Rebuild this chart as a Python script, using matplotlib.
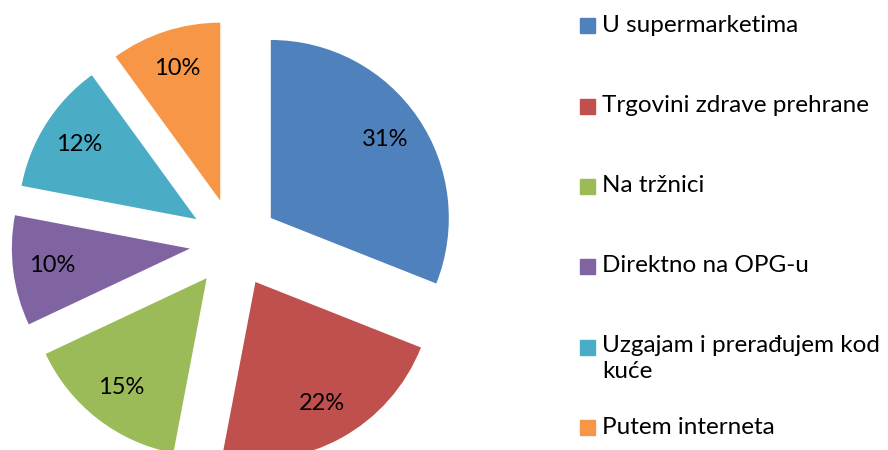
import matplotlib
matplotlib.use("Agg")
import matplotlib.pyplot as plt
from matplotlib.patches import Rectangle

plt.rcParams['font.family'] = ['Lato', 'DejaVu Sans']

# podaci
kategorije = ["U supermarketima", "Trgovini zdrave prehrane", "Na tržnici",
              "Direktno na OPG-u", "Uzgajam i prerađujem kod\nkuće", "Putem interneta"]
postoci = [31, 22, 15, 10, 12, 10]
boje = ["#4F81BD", "#C0504D", "#9BBB59", "#8064A2", "#4BACC6", "#F79646"]

W, H = 888, 450
fig = plt.figure(figsize=(W / 100, H / 100), dpi=100)
ax = fig.add_axes([0, 0, 1, 1])

# pie centre (px) and radius (px)
cx, cy, r = 234, 243, 178
ax.pie(postoci, colors=boje, startangle=90, counterclock=False,
       explode=[0.25] * len(postoci), radius=1,
       autopct='%1.0f%%', pctdistance=0.78,
       textprops={'fontsize': 17, 'color': 'black'},
       wedgeprops={'linewidth': 0})
ax.set_aspect('auto')
ax.set_xlim(-cx / r, (W - cx) / r)
ax.set_ylim(-(H - cy) / r, cy / r)
ax.axis('off')

# legenda (ručno, kao u Excelu)
leg_y = [25, 106, 186, 266, 347, 427]
for lab, c, y in zip(kategorije, boje, leg_y):
    fig.patches.append(Rectangle((580 / W, 1 - (y + 7.5) / H), 15 / W, 15 / H,
                                 transform=fig.transFigure, color=c))
    if '\n' in lab:
        fig.text(602 / W, 1 - (y - 12) / H, lab, fontsize=17.5, va='top',
                 ha='left', linespacing=1.3)
    else:
        fig.text(602 / W, 1 - y / H, lab, fontsize=17.5, va='center', ha='left')

fig.savefig("out.png", dpi=100)
